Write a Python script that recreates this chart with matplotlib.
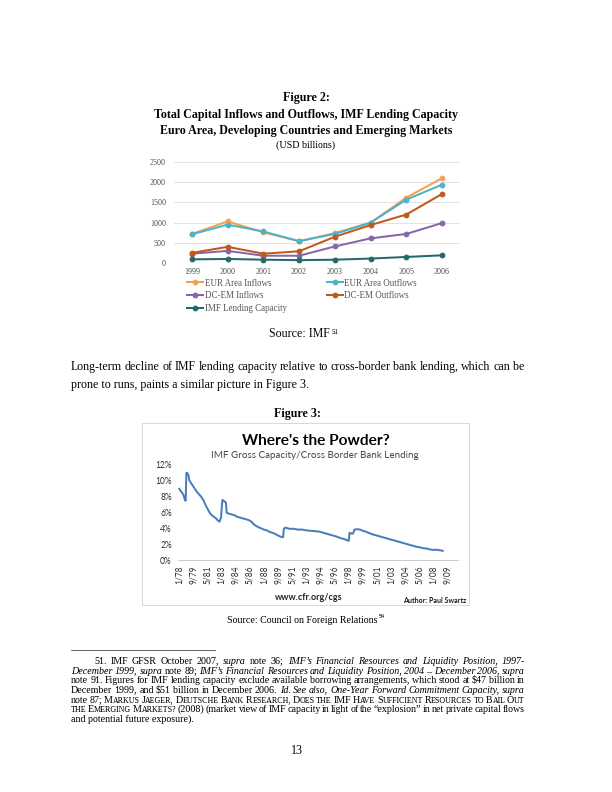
import matplotlib
matplotlib.use("Agg")
import matplotlib.pyplot as plt
from matplotlib.lines import Line2D
from matplotlib.patches import Rectangle

# ---- Figure 2 data (USD billions) ----
years = ["1999", "2000", "2001", "2002", "2003", "2004", "2005", "2006"]
eur_inflows = [720, 1030, 760, 540, 740, 1000, 1620, 2100]
eur_outflows = [710, 950, 780, 540, 720, 1000, 1570, 1940]
dcem_inflows = [230, 300, 180, 180, 410, 610, 720, 990]
dcem_outflows = [250, 400, 230, 290, 650, 940, 1200, 1710]
imf_capacity = [90, 100, 82, 70, 82, 110, 150, 190]
fig2_yticks = [0, 500, 1000, 1500, 2000, 2500]

# ---- Figure 3 data: months since 1/78, IMF capacity / cross border lending (%) ----
powder_month = [0, 2, 4, 6, 8, 9, 10, 11, 13, 14, 16, 19, 22, 25, 28, 31, 34, 37, 40, 43,
                46, 49, 52, 55, 57, 59, 61, 63, 66, 67, 70, 74, 78, 82, 86, 90, 94, 98, 102, 105,
                108, 112, 116, 120, 124, 128, 132, 136, 140, 144, 147, 148, 150, 156, 162, 168, 174, 180, 186, 192,
                198, 204, 210, 216, 222, 228, 234, 238, 240, 241, 244, 246, 248, 252, 256, 260, 264, 268, 272, 276,
                280, 284, 288, 292, 296, 300, 304, 308, 312, 316, 320, 324, 328, 332, 336, 340, 344, 348, 352, 356,
                360, 363, 366, 370, 373]
powder_pct = [8.9, 8.6, 8.4, 8.1, 7.5, 7.4, 10.9, 10.9, 10.6, 10.0, 9.7, 9.3, 8.9, 8.5, 8.2, 7.9, 7.5, 6.9, 6.4, 5.9,
              5.6, 5.4, 5.2, 4.9, 4.8, 5.3, 7.5, 7.4, 7.2, 5.9, 5.8, 5.7, 5.6, 5.4, 5.3, 5.2, 5.1, 5.0, 4.8, 4.5,
              4.3, 4.1, 3.95, 3.8, 3.7, 3.5, 3.4, 3.25, 3.05, 2.9, 2.85, 3.9, 4.05, 3.9, 3.9, 3.8, 3.8, 3.7, 3.65, 3.6,
              3.55, 3.4, 3.25, 3.1, 2.95, 2.75, 2.6, 2.45, 2.4, 3.4, 3.3, 3.3, 3.8, 3.85, 3.8, 3.65, 3.55, 3.4, 3.25, 3.15,
              3.05, 2.95, 2.85, 2.75, 2.65, 2.55, 2.45, 2.35, 2.25, 2.15, 2.05, 1.95, 1.85, 1.75, 1.65, 1.6, 1.5, 1.45, 1.4, 1.3,
              1.25, 1.3, 1.25, 1.2, 1.15]
powder_ticklabels = ["1/78", "9/79", "5/81", "1/83", "9/84", "5/86", "1/88", "9/89", "5/91", "1/93",
                     "9/94", "5/96", "1/98", "9/99", "5/01", "1/03", "9/04", "5/06", "1/08", "9/09"]
powder_yticks = [0, 2, 4, 6, 8, 10, 12]

W, H = 612, 792
SERIF = "Liberation Serif"
SANS = "Lato"
plt.rcParams["text.hinting"] = "native"
fig = plt.figure(figsize=(8.5, 11), dpi=72)
renderer = fig.canvas.get_renderer()


def put(x, y, s, **kw):
    # x, y in page pixels, measured from the top left corner
    kw.setdefault("family", SERIF)
    kw.setdefault("va", "baseline")
    return fig.text(x / W, 1 - y / H, s, **kw)


def fit(t, target):
    # scale a text so that it is as wide as in the scan (Calibri is replaced by Lato)
    w = t.get_window_extent(renderer).width
    t.set_fontsize(t.get_fontsize() * target / w)
    return t


def axes_px(left, top, right, bottom):
    return fig.add_axes([left / W, 1 - bottom / H, (right - left) / W, (bottom - top) / H])


IT = {"style": "italic"}


def sc(word, size=10):
    # small caps: lower case letters drawn as smaller capitals, punctuation stays with its run
    parts = []
    for ch in word:
        if parts and not ch.isalpha():
            parts[-1] = (parts[-1][0] + ch, parts[-1][1])
            continue
        s = size * 0.8 if ch.islower() else size
        if parts and parts[-1][1]["size"] == s:
            parts[-1] = (parts[-1][0] + ch.upper(), parts[-1][1])
        else:
            parts.append((ch.upper(), {"size": s}))
    return parts


def it(word):
    return [(word, IT)]


def text_line(x0, x1, y, words, size):
    # justified line, one text per word piece
    placed = []
    widths = []
    for w in words:
        if isinstance(w, str):
            w = [(w, {})]
        arts = []
        total = 0
        for txt, kw in w:
            t = put(0, y, txt, fontsize=kw.get("size", size), style=kw.get("style", "normal"))
            arts.append((t, total))
            total += t.get_window_extent(renderer).width
        placed.append(arts)
        widths.append(total)
    gap = (x1 - x0 - sum(widths)) / (len(words) - 1)
    x = x0
    for arts, wd in zip(placed, widths):
        for t, off in arts:
            t.set_x((x + off) / W)
        x += wd + gap


# ---------------- Figure 2 captions ----------------
put(306, 101, "Figure 2:", fontsize=12, weight="bold", ha="center")
put(306, 118, "Total Capital Inflows and Outflows, IMF Lending Capacity", fontsize=12, weight="bold", ha="center")
put(306, 134, "Euro Area, Developing Countries and Emerging Markets", fontsize=12, weight="bold", ha="center")
put(306, 148, "(USD billions)", fontsize=10, ha="center")

# ---------------- Figure 2 chart ----------------
ax2 = axes_px(174, 162, 460, 263)
x = list(range(len(years)))
series = [
    ("EUR Area Inflows", eur_inflows, "#F4A14F"),
    ("EUR Area Outflows", eur_outflows, "#4BB3C9"),
    ("DC-EM Inflows", dcem_inflows, "#8467A8"),
    ("DC-EM Outflows", dcem_outflows, "#C0571D"),
    ("IMF Lending Capacity", imf_capacity, "#23686C"),
]
handles = {}
for name, vals, col in series:
    ln, = ax2.plot(x, vals, color=col, lw=2, marker="o", ms=4.8, label=name)
    handles[name] = ln
ax2.set_xlim(-0.5, len(years) - 0.5)
ax2.set_ylim(0, 2500)
ax2.set_yticks(fig2_yticks)
ax2.set_xticks(x)
ax2.set_xticklabels(years)
ax2.grid(axis="y", color="#D9D9D9", lw=0.75)
ax2.set_axisbelow(True)
for sp in ax2.spines.values():
    sp.set_visible(False)
ax2.tick_params(length=0, labelsize=8, labelcolor="#595959", pad=8)
ax2.tick_params(axis="x", pad=5)
for lbl in ax2.get_xticklabels() + ax2.get_yticklabels():
    lbl.set_family(SERIF)

leg_kw = dict(frameon=False, handlelength=1.8, handletextpad=0.2, labelspacing=0.4,
              borderpad=0, borderaxespad=0, loc="upper left", bbox_transform=fig.transFigure,
              prop={"family": SERIF, "size": 9})
col1 = ["EUR Area Inflows", "DC-EM Inflows", "IMF Lending Capacity"]
col2 = ["EUR Area Outflows", "DC-EM Outflows"]
leg1 = ax2.legend([handles[n] for n in col1], col1, bbox_to_anchor=(186.5 / W, 1 - 278.5 / H), **leg_kw)
ax2.add_artist(leg1)
leg2 = ax2.legend([handles[n] for n in col2], col2, bbox_to_anchor=(326.5 / W, 1 - 278.5 / H), **leg_kw)
for leg in (leg1, leg2):
    for t in leg.get_texts():
        t.set_color("#595959")

put(299, 337, "Source: IMF", fontsize=12, ha="center")
put(332, 334, "51", fontsize=7)

# ---------------- body text ----------------
text_line(71, 524, 370, "Long-term decline of IMF lending capacity relative to cross-border bank lending, which can be".split(), 12)
put(71, 388, "prone to runs, paints a similar picture in Figure 3.", fontsize=12)

put(297.5, 417, "Figure 3:", fontsize=12, weight="bold", ha="center")

# ---------------- Figure 3 chart ----------------
fig.add_artist(Rectangle((142 / W, 1 - 605 / H), (469 - 142) / W, (605 - 423) / H,
                         transform=fig.transFigure, fill=False, ec="#D0D0D0", lw=0.8))
fit(put(316, 445, "Where's the Powder?", family=SANS, fontsize=14, weight="bold", ha="center"), 148)
fit(put(315, 458, "IMF Gross Capacity/Cross Border Bank Lending", family=SANS, fontsize=9, ha="center",
        color="#505050"), 208)

ax3 = axes_px(177.9, 464, 457.9, 560)
ax3.plot(powder_month, powder_pct, color="#4A7EBB", lw=2)
ax3.set_xlim(-2, 394.5)
ax3.set_ylim(0, 12)
ax3.set_yticks(powder_yticks)
ax3.set_yticklabels([f"{v}%" for v in powder_yticks])
ax3.set_xticks(range(0, 20 * len(powder_ticklabels), 20))
ax3.set_xticklabels(powder_ticklabels, rotation=90)
for sp in ("top", "right", "left"):
    ax3.spines[sp].set_visible(False)
ax3.spines["bottom"].set_color("#BFBFBF")
ax3.tick_params(length=0, labelsize=8.5, labelcolor="#404040", pad=6)
ax3.tick_params(axis="x", pad=5)
for lbl in ax3.get_xticklabels() + ax3.get_yticklabels():
    lbl.set_family(SANS)

fit(put(309, 600, "www.cfr.org/cgs", family=SANS, fontsize=9, weight="bold", ha="center", color="#262626"), 68)
fit(put(466, 603, "Author: Paul Swartz", family=SANS, fontsize=7, weight="bold", ha="right", color="#262626"), 64)

put(302, 623, "Source: Council on Foreign Relations", fontsize=10, ha="center")
put(378.5, 618, "94", fontsize=6)

# ---------------- footnote ----------------
fig.add_artist(Line2D([71 / W, 215 / W], [1 - 650 / H, 1 - 650 / H], transform=fig.transFigure, color="black", lw=0.6))
fn = [
    (94, ["51.", "IMF", "GFSR", "October", "2007,", it("supra"), "note", "36;", it("IMF’s"), it("Financial"),
          it("Resources"), it("and"), it("Liquidity"), it("Position,"), it("1997-")]),
    (71, [it("December"), it("1999,"), it("supra"), "note", "89;", it("IMF’s"), it("Financial"),
          it("Resources"), it("and"), it("Liquidity"), it("Position,"), it("2004"), it("–"), it("December"),
          it("2006,"), it("supra")]),
    (71, "note 91. Figures for IMF lending capacity exclude available borrowing arrangements, which stood at $47 billion in".split()),
    (71, "December 1999, and $51 billion in December 2006.".split() + [it("Id."), it("See"), it("also,"),
          it("One-Year"), it("Forward"), it("Commitment"), it("Capacity,"), it("supra")]),
    (71, ["note", "87;"] + [sc(w) for w in "Markus Jaeger, Deutsche Bank Research, Does the IMF Have Sufficient Resources to Bail Out".split()]),
    (71, [sc(w) for w in "the Emerging Markets?".split()] +
     "(2008) (market view of IMF capacity in light of the “explosion” in net private capital flows".split()),
]
fn_base = [664, 674, 683, 693, 703, 712]
for (x0, words), yb in zip(fn, fn_base):
    text_line(x0, 525, yb, words, 10)
put(71, 722, "and potential future exposure).", fontsize=10)

put(297, 754, "13", fontsize=12, ha="center")

fig.savefig("out.png", dpi=72)
